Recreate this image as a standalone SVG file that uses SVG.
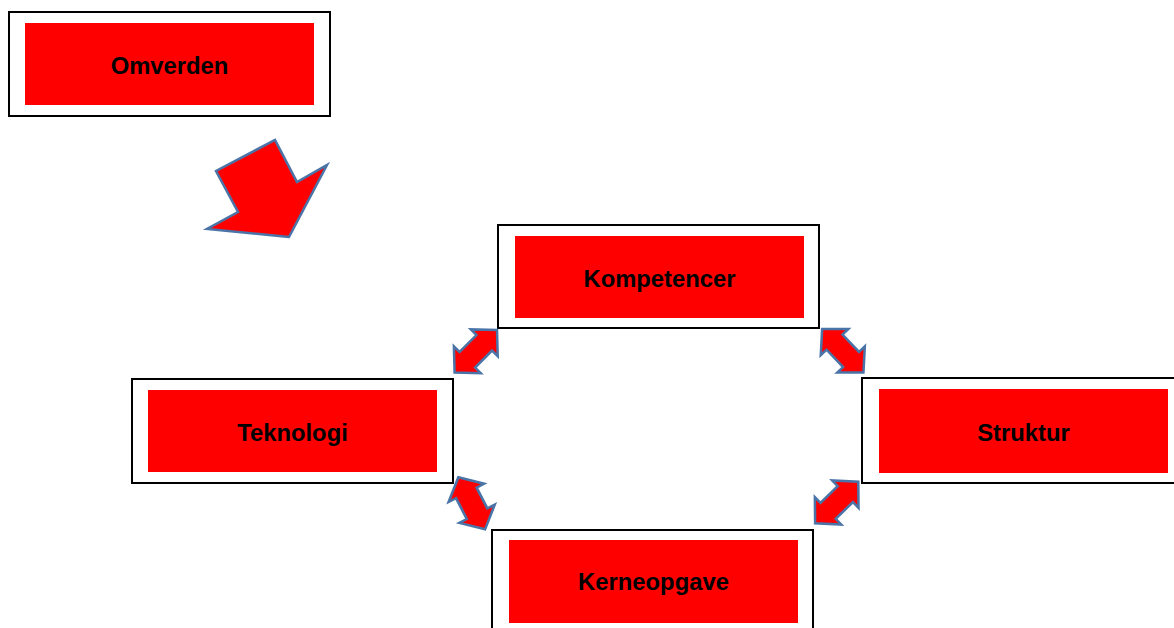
<svg xmlns="http://www.w3.org/2000/svg" width="1174" height="628" viewBox="0 0 1174 628">
<style>
.outer{fill:#fff;stroke:#000;stroke-width:2}
.inner{fill:#ff0000}
.lbl{font-family:"Liberation Sans",Arial,sans-serif;font-weight:bold;font-size:23.8px;fill:#000;text-anchor:middle}
.arr{fill:#ff0000;stroke:#4a74a8;stroke-width:2.5;stroke-linejoin:miter}
</style>
<defs>
<polygon id="dbl" points="-30,0 -12,-19 -12,-11 12,-11 12,-19 30,0 12,19 12,11 -12,11 -12,19"/>
</defs>
<rect width="1174" height="628" fill="#fff"/>
<g id="omverden">
<rect class="outer" x="9" y="12" width="321" height="104"/>
<rect class="inner" x="25" y="23" width="289" height="82"/>
<text class="lbl" x="169.5" y="73.5">Omverden</text>
</g>
<g id="kompetencer">
<rect class="outer" x="498" y="225" width="321" height="103"/>
<rect class="inner" x="515" y="236" width="289" height="82"/>
<text class="lbl" x="659.5" y="286.5">Kompetencer</text>
</g>
<g id="teknologi">
<rect class="outer" x="132" y="379" width="321" height="104"/>
<rect class="inner" x="148" y="390" width="289" height="82"/>
<text class="lbl" x="292.5" y="440.5">Teknologi</text>
</g>
<g id="struktur">
<rect class="outer" x="862" y="378" width="322" height="105"/>
<rect class="inner" x="879" y="389" width="289" height="84"/>
<text class="lbl" x="1023.5" y="440.5">Struktur</text>
</g>
<g id="kerneopgave">
<rect class="outer" x="492" y="530" width="321" height="110"/>
<rect class="inner" x="509" y="540" width="289" height="83"/>
<text class="lbl" x="653.5" y="590">Kerneopgave</text>
</g>
<g id="connectors">
<polygon class="arr" points="289,237 207,229 238,212 216,171 275,140 297,182 327,165"/>
<use href="#dbl" class="arr" transform="translate(475.8,351.3) rotate(-45)"/>
<use href="#dbl" class="arr" transform="translate(842.8,350.8) rotate(46.5)"/>
<use href="#dbl" class="arr" transform="translate(471.7,503.3) rotate(62.8) scale(0.975,1.05)"/>
<use href="#dbl" class="arr" transform="translate(836.7,502.5) rotate(-44)"/>
</g>
</svg>
